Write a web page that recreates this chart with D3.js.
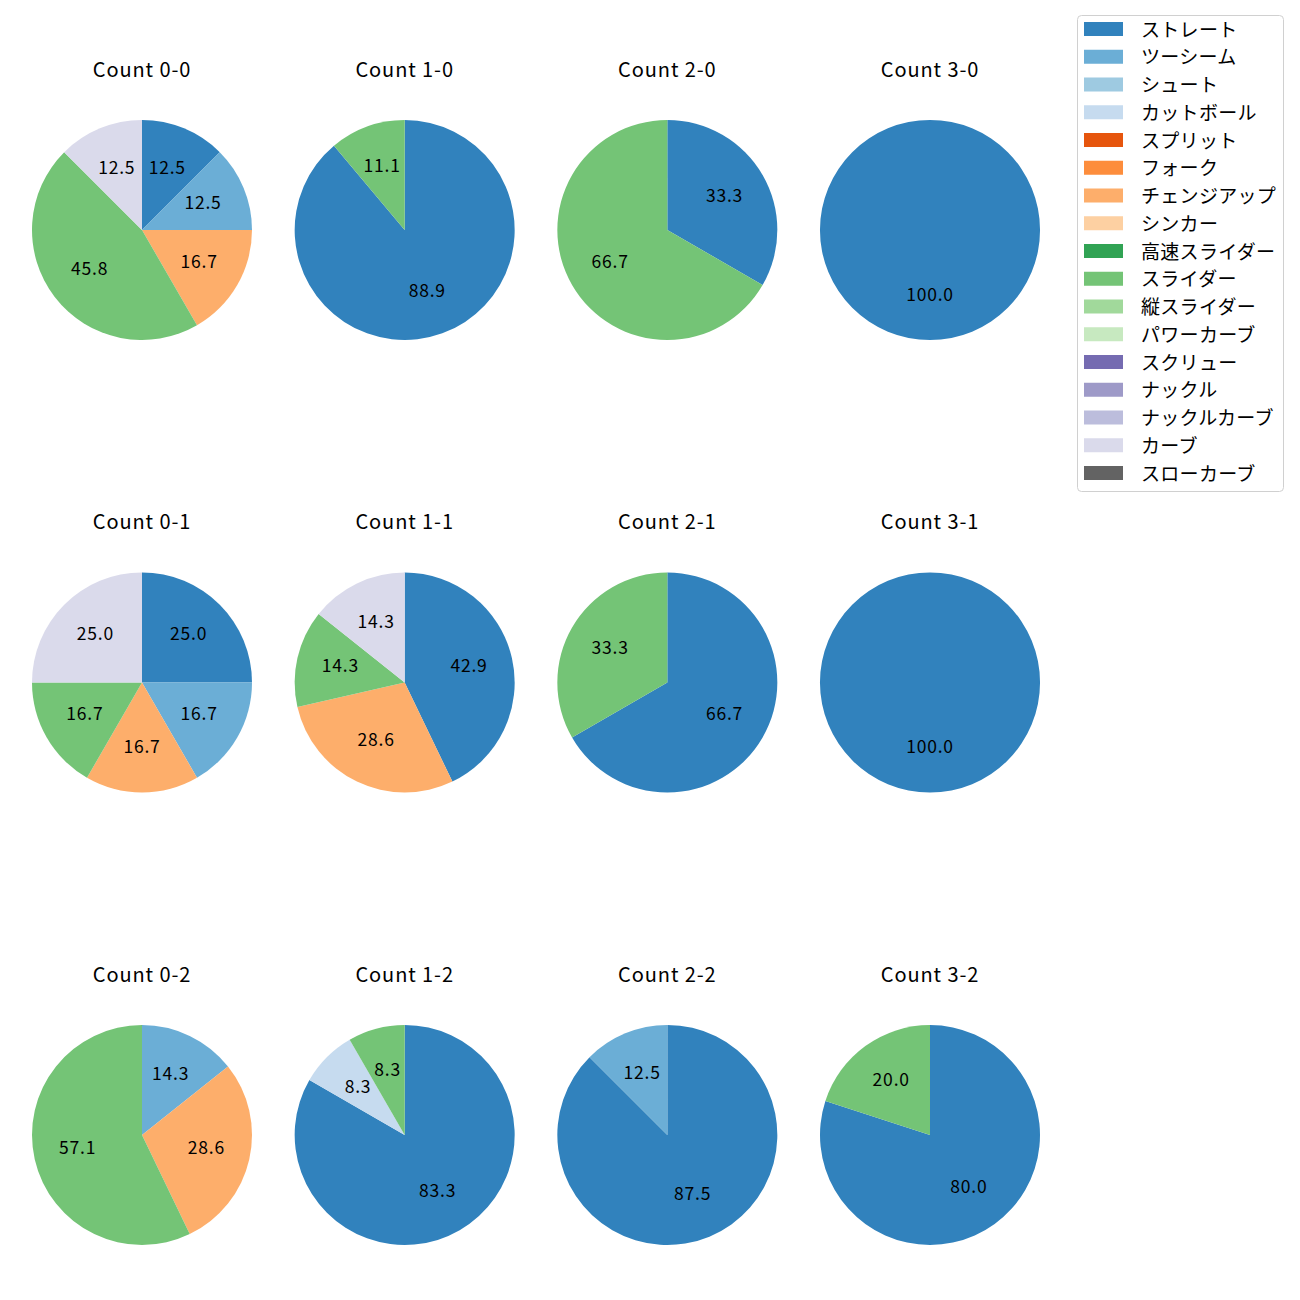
<!DOCTYPE html>
<html><head><meta charset="utf-8">
<script src="https://cdn.jsdelivr.net/npm/d3@7"></script>
<style>body{margin:0;background:#fff}</style>
</head><body>
<svg id="c" width="1300" height="1300"></svg>
<script>
const pitchTypes = ["ストレート","ツーシーム","シュート","カットボール","スプリット","フォーク","チェンジアップ","シンカー","高速スライダー","スライダー","縦スライダー","パワーカーブ","スクリュー","ナックル","ナックルカーブ","カーブ","スローカーブ"];
const colors = ["#3182bd","#6baed6","#9ecae1","#c6dbef","#e6550d","#fd8d3c","#fdae6b","#fdd0a2","#31a354","#74c476","#a1d99b","#c7e9c0","#756bb1","#9e9ac8","#bcbddc","#dadaeb","#636363"];
const balls = ["0","1","2","3"];
const strikes = ["0","1","2"];
// pitch counts per count situation: [type, count]
const count_0_0 = [["ストレート",3],["ツーシーム",3],["チェンジアップ",4],["スライダー",11],["カーブ",3]];
const count_1_0 = [["ストレート",8],["スライダー",1]];
const count_2_0 = [["ストレート",1],["スライダー",2]];
const count_3_0 = [["ストレート",2]];
const count_0_1 = [["ストレート",3],["ツーシーム",2],["チェンジアップ",2],["スライダー",2],["カーブ",3]];
const count_1_1 = [["ストレート",3],["チェンジアップ",2],["スライダー",1],["カーブ",1]];
const count_2_1 = [["ストレート",2],["スライダー",1]];
const count_3_1 = [["ストレート",2]];
const count_0_2 = [["ツーシーム",1],["チェンジアップ",2],["スライダー",4]];
const count_1_2 = [["ストレート",10],["カットボール",1],["スライダー",1]];
const count_2_2 = [["ストレート",7],["ツーシーム",1]];
const count_3_2 = [["ストレート",4],["スライダー",1]];
const countData = {
  "0-0":count_0_0,"1-0":count_1_0,"2-0":count_2_0,"3-0":count_3_0,
  "0-1":count_0_1,"1-1":count_1_1,"2-1":count_2_1,"3-1":count_3_1,
  "0-2":count_0_2,"1-2":count_1_2,"2-2":count_2_2,"3-2":count_3_2
};

const FONT = "'Noto Sans CJK JP', 'Noto Sans', sans-serif";
const svg = d3.select("#c");
const color = d3.scaleOrdinal().domain(pitchTypes).range(colors);
const xScale = d3.scalePoint().domain(balls).range([142, 930]);
const yScale = d3.scalePoint().domain(strikes).range([230, 1135]);
const R = 110;
const pie = d3.pie().sort(null).value(d => d[1]).startAngle(0).endAngle(2*Math.PI);
const arc = d3.arc().innerRadius(0).outerRadius(R);
const labelArc = d3.arc().innerRadius(R*0.6).outerRadius(R*0.6);

strikes.forEach(s => balls.forEach(b => {
  const key = b + "-" + s;
  const data = countData[key];
  const total = d3.sum(data, d => d[1]);
  const g = svg.append("g").attr("transform", `translate(${xScale(b)},${yScale(s)})`);
  g.append("text").attr("x", 0).attr("y", -162)
    .attr("text-anchor","middle").attr("dominant-baseline","central")
    .attr("font-family", FONT).attr("font-size", 20).attr("letter-spacing", 0.9)
    .attr("fill","#000")
    .text("Count " + key);
  const arcs = pie(data);
  g.selectAll("path").data(arcs).join("path")
    .attr("d", arc).attr("fill", d => color(d.data[0]));
  g.selectAll("text.lbl").data(arcs).join("text").attr("class","lbl")
    .attr("transform", d => {
      const [x,y] = labelArc.centroid(d);
      return `translate(${x},${y - 3})`;
    })
    .attr("text-anchor","middle").attr("dominant-baseline","central")
    .attr("font-family", FONT).attr("font-size", 17.5).attr("letter-spacing", 0.8)
    .attr("fill","#000")
    .text(d => (d.data[1]/total*100).toFixed(1));
}));

// legend
const lg = svg.append("g");
lg.append("rect").attr("x",1077.5).attr("y",15.5).attr("width",206).attr("height",476)
  .attr("rx",4).attr("fill","#fff").attr("stroke","#d0d0d0").attr("stroke-width",1);
const ly = d3.scalePoint().domain(pitchTypes).range([29, 473]);
pitchTypes.forEach(p => {
  lg.append("rect").attr("x",1084).attr("y",ly(p)-7).attr("width",39).attr("height",14).attr("fill",color(p));
  lg.append("text").attr("x",1141).attr("y",ly(p)-1).attr("dominant-baseline","central")
    .attr("font-family", FONT).attr("font-size", 19).attr("letter-spacing", 0.3)
    .attr("fill","#000").text(p);
});
</script>
</body></html>
